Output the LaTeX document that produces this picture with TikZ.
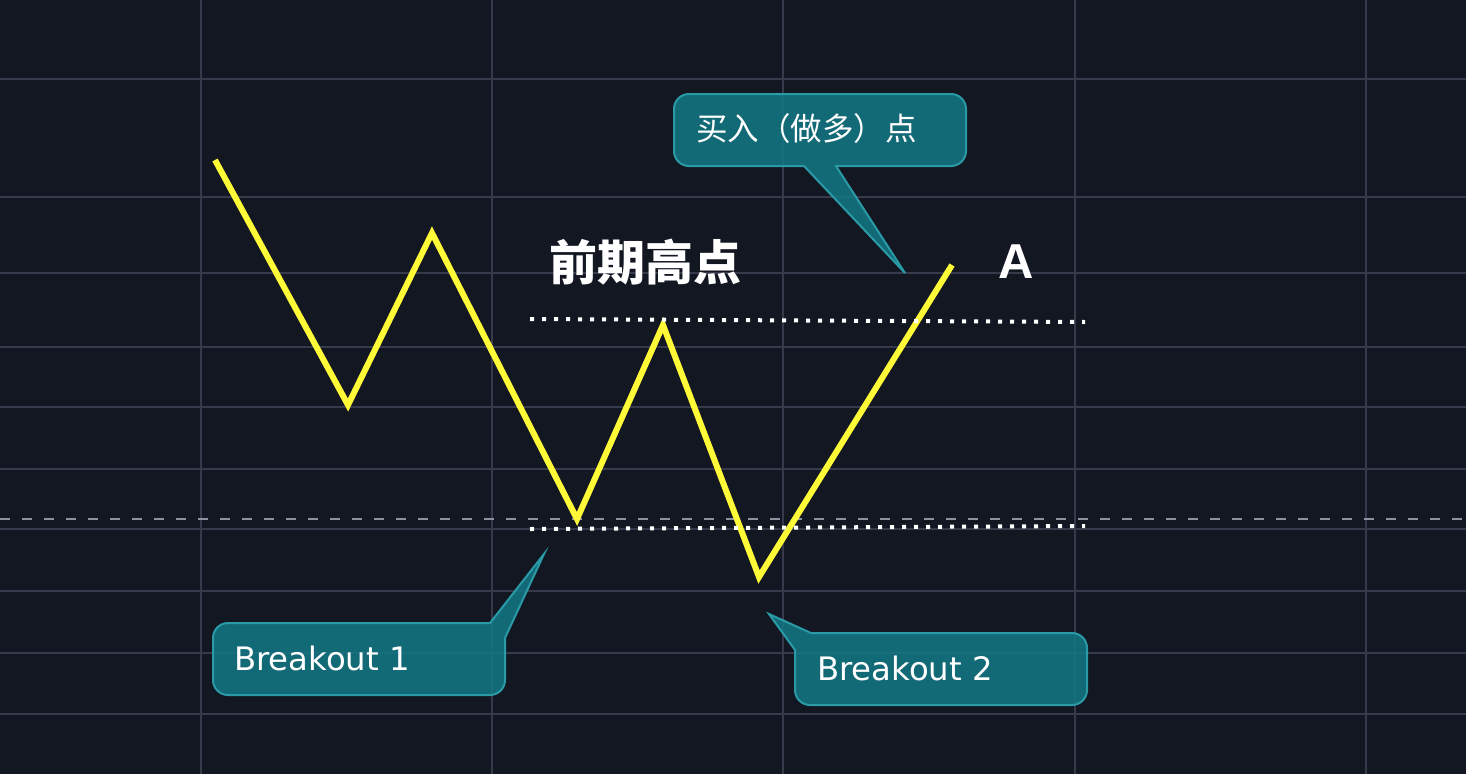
\documentclass[tikz,border=0pt]{standalone}
\usepackage{fontspec}
\setmainfont{DejaVu Sans}
\newfontfamily\cjk{Noto Sans CJK SC}
\newfontfamily\headfont{Liberation Sans}
\usetikzlibrary{positioning}
\definecolor{bgdark}{RGB}{19,23,34}
\definecolor{gridline}{RGB}{54,58,74}
\definecolor{midgray}{RGB}{138,147,159}
\definecolor{zigyellow}{RGB}{255,250,55}
\definecolor{tealfill}{RGB}{20,118,131}
\definecolor{tealedge}{RGB}{42,154,166}
\tikzset{
  gridrule/.style  = {draw=gridline, line width=2pt},
  midline/.style   = {draw=midgray, line width=2.5pt, dash pattern=on 10pt off 12pt},
  dotrule/.style   = {draw=white, line width=4pt, dash pattern=on 4pt off 8pt},
  zigzag/.style    = {draw=zigyellow, line width=6pt, line join=miter},
  bubble/.style    = {draw=tealedge, line width=2pt, fill=tealfill, fill opacity=0.88},
  bubbletext/.style = {anchor=base west, inner sep=0pt, text=white,
                   font=\fontsize{32.3}{36}\selectfont},
  headtext/.style  = {anchor=base west, inner sep=0pt, text=white}
}
\begin{document}
\begin{tikzpicture}[x=1pt, y=-1pt]

% background and grid
\fill[bgdark] (0,0) rectangle (1466,774);
\useasboundingbox (0,0) rectangle (1466,774);
\foreach \gx in {201,492,783,1075,1366}
  \draw[gridrule] (\gx,0) -- (\gx,774);
\foreach \gy in {79,197,273,347,407,469,529,591,653,714}
  \draw[gridrule] (0,\gy) -- (1466,\gy);
\draw[midline] (0,519) -- (1466,519);

% price path
\coordinate (p1) at (215,160);
\coordinate (p2) at (348,405);
\coordinate (p3) at (432,233);
\coordinate (p4) at (577,519);
\coordinate (p5) at (663,325);
\coordinate (p6) at (759,577);
\coordinate (p7) at (952,265);
\draw[zigzag] (p1) -- (p2) -- (p3) -- (p4) -- (p5) -- (p6) -- (p7);

% resistance and support levels
\coordinate (hiL) at (530,319);
\coordinate (hiR) at (1085,322);
\coordinate (loL) at (530,529);
\coordinate (loR) at (1085,526);
\draw[dotrule] (hiL) -- (hiR);
\draw[dotrule] (loL) -- (loR);

% labels
\node[headtext, font=\cjk\bfseries\fontsize{48}{52}\selectfont] (high) at (549,280) {前期高点};
\node[headtext, font=\headfont\bfseries\fontsize{49}{52}\selectfont] (pointA) at (998,278) {A};

% callouts
\coordinate (tipbuy) at (905,273);
\draw[bubble] (tipbuy) -- (836,166) [rounded corners=15pt] -- (966,166) -- (966,94)
  -- (674,94) -- (674,166) [sharp corners] -- (804,166) -- cycle;
\node[bubbletext, font=\cjk\fontsize{31.5}{36}\selectfont] (buy) at (696,140) {买入（做多）点};

\coordinate (tipbo1) at (544,554);
\draw[bubble] (tipbo1) -- (505,638) [rounded corners=15pt] -- (505,695) -- (213,695)
  -- (213,623) [sharp corners] -- (490,623) -- cycle;
\node[bubbletext] (bo1) at (234,670) {Breakout 1};

\coordinate (tipbo2) at (769,614);
\draw[bubble] (tipbo2) -- (811,633) [rounded corners=15pt] -- (1087,633) -- (1087,705)
  -- (795,705) [sharp corners] -- (795,650) -- cycle;
\node[bubbletext] (bo2) at (817,680) {Breakout 2};

\end{tikzpicture}
\end{document}
